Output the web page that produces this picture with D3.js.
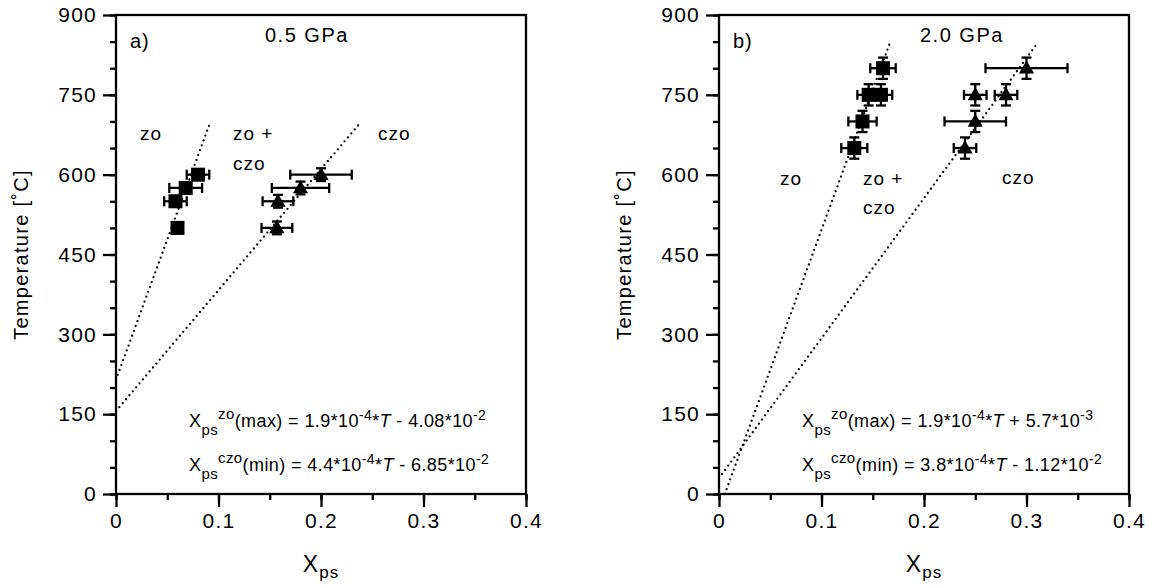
<!DOCTYPE html>
<html>
<head>
<meta charset="utf-8">
<script src="https://cdn.jsdelivr.net/npm/d3@7"></script>
<style>
  html, body { margin: 0; padding: 0; background: #fff; }
  svg { display: block; font-family: "Liberation Sans", Arial, Helvetica, sans-serif; }
</style>
</head>
<body>
<svg id="chart" width="1152" height="585"></svg>
<script>
// ---------------- data ----------------
const xTickValues = [0, 0.1, 0.2, 0.3, 0.4];
const xTickLabels = ["0", "0.1", "0.2", "0.3", "0.4"];
const yTickValues = [0, 150, 300, 450, 600, 750, 900];
const yTickLabels = ["0", "150", "300", "450", "600", "750", "900"];

// panel a) 0.5 GPa
const aZoT    = [500, 550, 575, 600];
const aZoX    = [0.060, 0.058, 0.068, 0.080];
const aZoXErr = [0.004, 0.011, 0.016, 0.011];
const aZoTErr = [10, 10, 10, 10];
const aCzoT    = [500, 550, 575, 600];
const aCzoX    = [0.157, 0.158, 0.180, 0.200];
const aCzoXErr = [0.015, 0.015, 0.028, 0.030];
const aCzoTErr = [12, 12, 12, 12];
// fitted boundaries X = slope*T + intercept
const aFitSlope     = [1.9e-4, 4.4e-4];
const aFitIntercept = [-4.08e-2, -6.85e-2];
const aFitTmax      = 695;

// panel b) 2.0 GPa
const bZoT    = [650, 700, 750, 750, 800];
const bZoX    = [0.132, 0.140, 0.146, 0.158, 0.160];
const bZoXErr = [0.0127, 0.0138, 0.011, 0.011, 0.0124];
const bZoTErr = [20, 20, 20, 20, 20];
const bCzoT    = [650, 700, 750, 750, 800];
const bCzoX    = [0.240, 0.250, 0.250, 0.280, 0.300];
const bCzoXErr = [0.011, 0.030, 0.011, 0.011, 0.040];
const bCzoTErr = [20, 20, 20, 20, 20];
const bFitSlope     = [1.9e-4, 3.8e-4];
const bFitIntercept = [5.7e-3, -1.12e-2];
const bFitTmax      = 848;

const panelLetters = ["a)", "b)"];
const panelTitles  = ["0.5 GPa", "2.0 GPa"];
const eqA = [["zo", "(max) = 1.9*10", "-4", " - 4.08*10", "-2"],
             ["czo", "(min) = 4.4*10", "-4", " - 6.85*10", "-2"]];
const eqB = [["zo", "(max) = 1.9*10", "-4", " + 5.7*10", "-3"],
             ["czo", "(min) = 3.8*10", "-4", " - 1.12*10", "-2"]];

// ---------------- drawing ----------------
const svg = d3.select("#chart");
const PW = 410, PTOP = 15, PBOT = 494;

function panel(opts) {
  const g = svg.append("g");
  const x = d3.scaleLinear().domain([0, 0.4]).range([opts.left, opts.left + PW]);
  const y = d3.scaleLinear().domain([0, 900]).range([PBOT, PTOP]);

  // frame
  g.append("rect").attr("x", opts.left).attr("y", PTOP)
    .attr("width", PW).attr("height", PBOT - PTOP)
    .attr("fill", "none").attr("stroke", "#000").attr("stroke-width", 2.3);

  // minor ticks
  const xMinor = d3.axisBottom(x).tickValues(d3.range(0, 0.4001, 0.05)).tickSize(6).tickFormat("");
  const yMinor = d3.axisLeft(y).tickValues(d3.range(0, 901, 50)).tickSize(6).tickFormat("");
  g.append("g").attr("transform", `translate(0,${PBOT})`).call(xMinor);
  g.append("g").attr("transform", `translate(${opts.left},0)`).call(yMinor);
  // major ticks
  const xAxis = d3.axisBottom(x).tickValues(xTickValues).tickSize(13).tickPadding(6)
    .tickFormat((d, i) => xTickLabels[i]);
  const yAxis = d3.axisLeft(y).tickValues(yTickValues).tickSize(13).tickPadding(6)
    .tickFormat((d, i) => yTickLabels[i]);
  g.append("g").attr("class", "xa").attr("transform", `translate(0,${PBOT})`).call(xAxis);
  g.append("g").attr("class", "ya").attr("transform", `translate(${opts.left},0)`).call(yAxis);
  g.selectAll(".domain").remove();
  g.selectAll(".tick line").attr("stroke", "#000").attr("stroke-width", 2.3);
  g.selectAll(".tick text").attr("fill", "#000").attr("font-size", 21)
    .attr("font-family", "Liberation Sans, Arial, sans-serif").style("letter-spacing", "1.2px");

  // axis titles
  const xt = g.append("text").attr("x", opts.left + PW / 2).attr("y", 572)
    .attr("text-anchor", "middle").attr("font-size", 23).style("letter-spacing", "1px");
  xt.append("tspan").text("X");
  xt.append("tspan").attr("font-size", 17).attr("dy", 6).text("ps");
  g.append("text").attr("transform", `translate(${opts.left - 88},${(PTOP + PBOT) / 2}) rotate(-90)`)
    .attr("text-anchor", "middle").attr("font-size", 20).style("letter-spacing", "1.3px")
    .text("Temperature [˚C]");

  // fitted boundary lines (dotted)
  opts.slope.forEach((s, i) => {
    const b = opts.intercept[i];
    const T0 = Math.max(0, -b / s);
    const pts = [[s * T0 + b, T0], [s * opts.tmax + b, opts.tmax]];
    g.append("path")
      .attr("d", d3.line().x(d => x(d[0])).y(d => y(d[1]))(pts))
      .attr("fill", "none").attr("stroke", "#000").attr("stroke-width", 2.3)
      .attr("stroke-linecap", "round").attr("stroke-dasharray", "0,5.2");
  });

  // error bars
  function errorBars(X, T, XE, TE) {
    const eg = g.append("g").attr("stroke", "#000").attr("stroke-width", 2.3);
    X.forEach((xv, i) => {
      const cx = x(xv), cy = y(T[i]);
      const x1 = x(xv - XE[i]), x2 = x(xv + XE[i]);
      const y1 = y(T[i] - TE[i]), y2 = y(T[i] + TE[i]);
      eg.append("line").attr("x1", x1).attr("x2", x2).attr("y1", cy).attr("y2", cy);
      eg.append("line").attr("x1", x1).attr("x2", x1).attr("y1", cy - 5).attr("y2", cy + 5);
      eg.append("line").attr("x1", x2).attr("x2", x2).attr("y1", cy - 5).attr("y2", cy + 5);
      eg.append("line").attr("x1", cx).attr("x2", cx).attr("y1", y1).attr("y2", y2);
      eg.append("line").attr("x1", cx - 5).attr("x2", cx + 5).attr("y1", y1).attr("y2", y1);
      eg.append("line").attr("x1", cx - 5).attr("x2", cx + 5).attr("y1", y2).attr("y2", y2);
    });
  }
  errorBars(opts.zoX, opts.zoT, opts.zoXE, opts.zoTE);
  errorBars(opts.czoX, opts.czoT, opts.czoXE, opts.czoTE);

  // markers
  g.selectAll(null).data(opts.zoX).enter().append("rect")
    .attr("x", (d) => x(d) - 7).attr("y", (d, i) => y(opts.zoT[i]) - 7)
    .attr("width", 14).attr("height", 14).attr("fill", "#000");
  const tri = d3.symbol().type(d3.symbolTriangle).size(100);
  g.selectAll(null).data(opts.czoX).enter().append("path")
    .attr("d", tri)
    .attr("transform", (d, i) => `translate(${x(d)},${y(opts.czoT[i]) + 1})`)
    .attr("fill", "#000");

  // labels
  const txt = (tx, ty, s, size, ls) => g.append("text").attr("x", tx).attr("y", ty)
    .attr("font-size", size || 19).style("letter-spacing", (ls || 1) + "px").text(s);
  txt(opts.left + 14, 48, opts.letter, 20);
  txt(opts.titleX, 42, opts.title, 20, 1.5);
  opts.regions.forEach(r => txt(r[0], r[1], r[2], 19));

  // equations
  opts.eq.forEach((e, i) => {
    const t = g.append("text").attr("x", opts.eqX).attr("y", 427 + i * 44)
      .attr("font-size", 18).style("letter-spacing", "0.4px");
    t.append("tspan").text("X");
    t.append("tspan").attr("font-size", 15).attr("dy", 8).text("ps");
    t.append("tspan").attr("font-size", 15).attr("dy", -16).text(e[0]);
    t.append("tspan").attr("dy", 8).text(e[1]);
    t.append("tspan").attr("font-size", 14).attr("dy", -7).text(e[2]);
    t.append("tspan").attr("dy", 7).text("*");
    t.append("tspan").attr("font-style", "italic").text("T");
    t.append("tspan").text(e[3]);
    t.append("tspan").attr("font-size", 14).attr("dy", -7).text(e[4]);
  });
}

panel({
  left: 116, letter: panelLetters[0], title: panelTitles[0], titleX: 265,
  zoX: aZoX, zoT: aZoT, zoXE: aZoXErr, zoTE: aZoTErr,
  czoX: aCzoX, czoT: aCzoT, czoXE: aCzoXErr, czoTE: aCzoTErr,
  slope: aFitSlope, intercept: aFitIntercept, tmax: aFitTmax,
  regions: [[140, 140, "zo"], [233, 140, "zo +"], [233, 170, "czo"], [378, 140, "czo"]],
  eq: eqA, eqX: 189
});
panel({
  left: 719, letter: panelLetters[1], title: panelTitles[1], titleX: 920,
  zoX: bZoX, zoT: bZoT, zoXE: bZoXErr, zoTE: bZoTErr,
  czoX: bCzoX, czoT: bCzoT, czoXE: bCzoXErr, czoTE: bCzoTErr,
  slope: bFitSlope, intercept: bFitIntercept, tmax: bFitTmax,
  regions: [[780, 185, "zo"], [863, 185, "zo +"], [863, 214, "czo"], [1002, 184, "czo"]],
  eq: eqB, eqX: 802
});
</script>
</body>
</html>
